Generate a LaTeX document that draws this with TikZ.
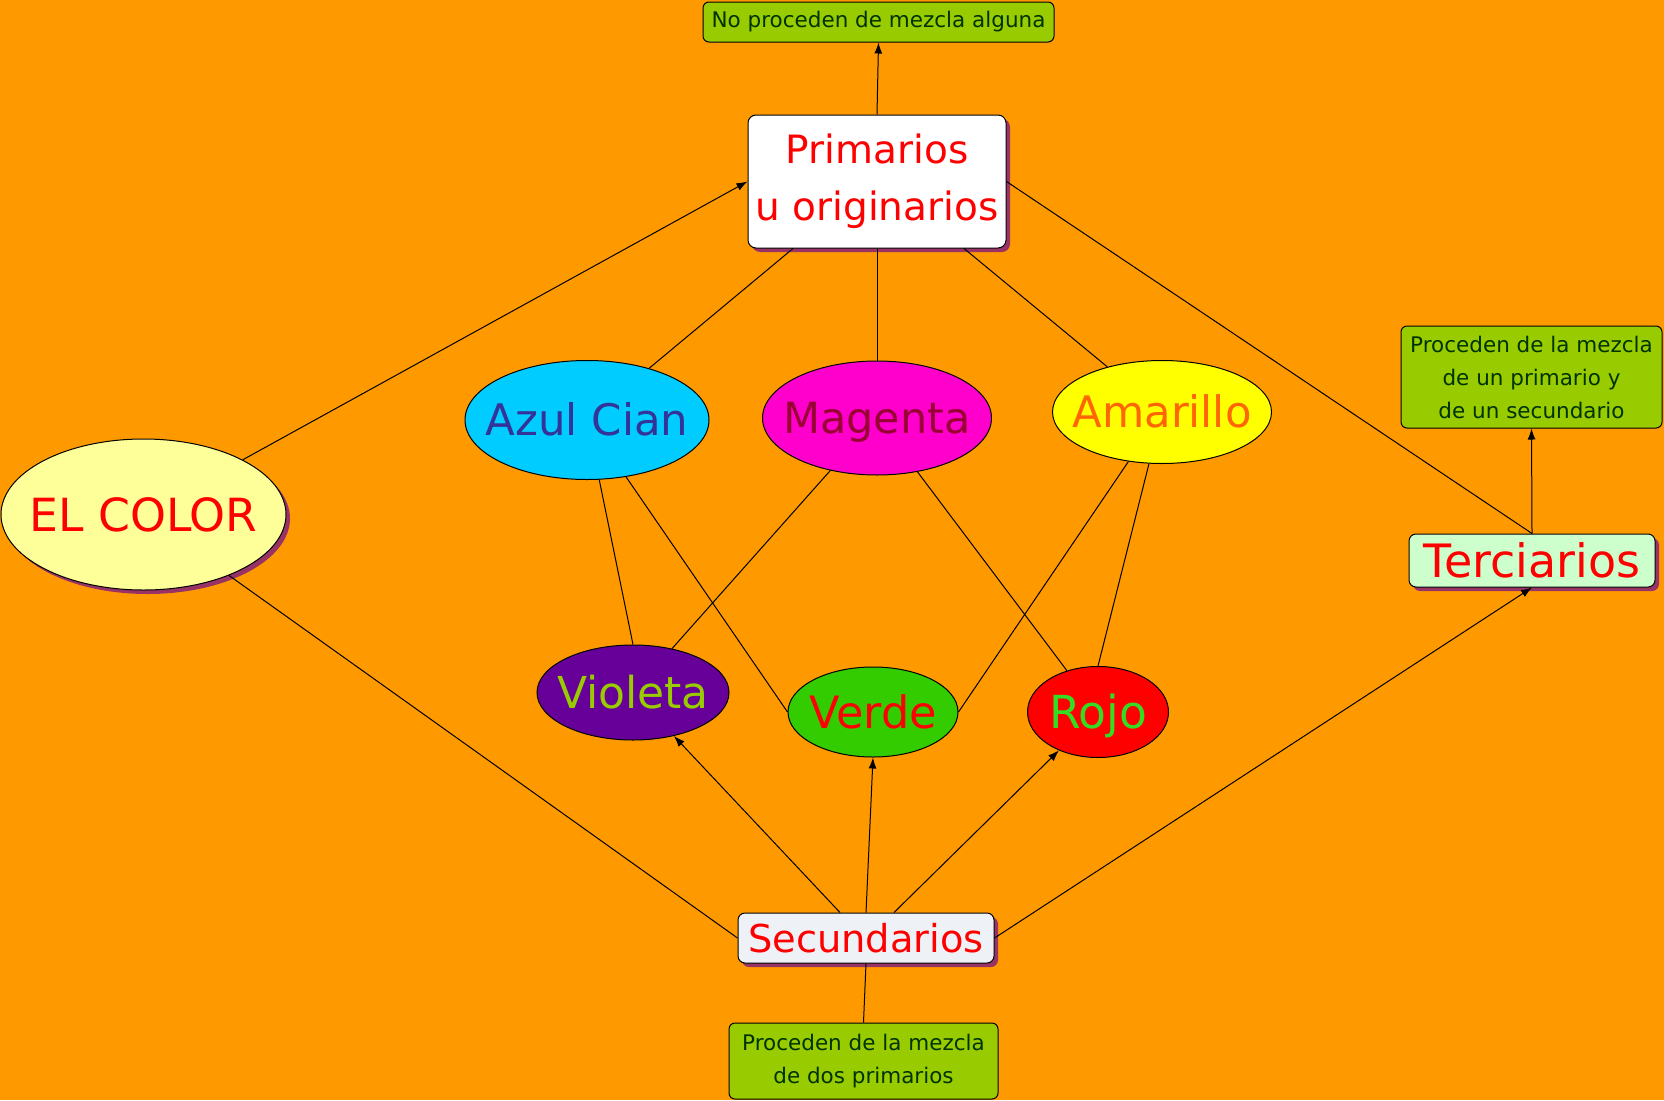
\documentclass[tikz,border=0pt]{standalone}
\usepackage{fontspec}
\setmainfont{DejaVu Sans}
\usetikzlibrary{arrows.meta,shapes.geometric,shadows}
\definecolor{bg}{HTML}{FF9900}
\definecolor{notegreen}{HTML}{99CC00}
\definecolor{notetext}{HTML}{003300}
\definecolor{shadowcol}{HTML}{993366}
\definecolor{elfill}{HTML}{FFFF99}
\definecolor{azulfill}{HTML}{00CCFF}
\definecolor{azultext}{HTML}{333399}
\definecolor{magfill}{HTML}{FF00CC}
\definecolor{magtext}{HTML}{990033}
\definecolor{amafill}{HTML}{FFFF00}
\definecolor{amatext}{HTML}{FF6600}
\definecolor{violfill}{HTML}{660099}
\definecolor{violtext}{HTML}{99CC00}
\definecolor{verdefill}{HTML}{33CC00}
\definecolor{rojotext}{HTML}{33DD22}
\definecolor{tercfill}{HTML}{CCFFCC}
\definecolor{secfill}{HTML}{EEF2F6}
\begin{document}
\begin{tikzpicture}[x=1pt,y=-1pt,
  conn/.style={draw=black, line width=1pt},
  arr/.style={conn, -{Latex[length=11pt,width=8pt]}},
  oval/.style={ellipse, draw=black, line width=1pt, inner sep=0pt, text depth=0pt},
  rbox/.style={rectangle, rounded corners=7pt, draw=black, line width=1pt, inner sep=0pt, align=center},
  note/.style={rbox, fill=notegreen, text=notetext, rounded corners=6pt, font=\fontsize{21.5}{33}\selectfont},
  shad/.style={drop shadow={shadow xshift=4pt, shadow yshift=-4pt, fill=shadowcol, opacity=1}},
  fs/.style={font=\fontsize{#1}{#1}\selectfont}
]
\fill[bg] (0,0) rectangle (1664,1100);
\useasboundingbox (0,0) rectangle (1664,1100);

% notes
\node[note, minimum width=351pt, minimum height=40pt] (nop) at (878.5,22) {No proceden de mezcla alguna};
\node[note, minimum width=261pt, minimum height=102pt] (ter3) at (1531.5,377) {Proceden de la mezcla\\de un primario y\\de un secundario};
\node[note, minimum width=269pt, minimum height=76pt] (dos) at (863.5,1061) {Proceden de la mezcla\\de dos primarios};

% main boxes
\node[rbox, shad, fill=white, text=red, rounded corners=8pt, minimum width=258pt, minimum height=133pt, font=\fontsize{39}{57}\selectfont] (prim) at (877,181.5) {Primarios\\u originarios};
\node[rbox, shad, fill=tercfill, text=red, minimum width=246pt, minimum height=53pt, fs=46, text height=33.5pt, text depth=0pt] (terc) at (1532,560.5) {Terciarios};
\node[rbox, shad, fill=secfill, text=red, minimum width=256pt, minimum height=50pt, fs=38.4, text height=28pt, text depth=0pt] (sec) at (866,938) {Secundarios};

% ellipses
\node[oval, shad, fill=elfill, text=red, minimum width=285pt, minimum height=151pt, fs=45.7, text height=33.3pt] (el) at (143.5,514.5) {\makebox[0pt]{EL COLOR}};
\node[oval, fill=azulfill, text=azultext, minimum width=244pt, minimum height=119pt, fs=43.5, text height=31.7pt] (azul) at (587,420) {\makebox[0pt]{Azul Cian}};
\node[oval, fill=magfill, text=magtext, minimum width=229pt, minimum height=114pt, fs=43, text height=31.4pt] (mag) at (877,418) {\makebox[0pt]{Magenta}};
\node[oval, fill=amafill, text=amatext, minimum width=219pt, minimum height=103pt, fs=43.4, text height=31.6pt] (ama) at (1162,412) {\makebox[0pt]{Amarillo}};
\node[oval, fill=violfill, text=violtext, minimum width=192pt, minimum height=95pt, fs=44, text height=32.1pt] (viol) at (633,692.5) {\makebox[0pt]{Violeta}};
\node[oval, fill=verdefill, text=red, minimum width=170pt, minimum height=90pt, fs=44.6, text height=32.5pt] (verde) at (873,712) {\makebox[0pt]{Verde}};
\node[oval, fill=red, text=rojotext, minimum width=141pt, minimum height=91pt, fs=45.5, text height=33.2pt] (rojo) at (1098,712) {\makebox[0pt]{Rojo}};

% connectors
\draw[arr] (el) -- (prim.west);
\draw[arr] (prim.north) -- (nop.south);
\draw[conn] (azul) -- ([xshift=-84pt]prim.south);
\draw[conn] (mag) -- (prim.south);
\draw[conn] (ama) -- ([xshift=87pt]prim.south);
\draw[conn] (prim.east) -- (terc.north);
\draw[conn] (viol.north) -- (azul);
\draw[conn] (verde.west) -- (azul);
\draw[conn] (mag) -- (viol);
\draw[conn] (mag) -- (rojo);
\draw[conn] (verde.east) -- (ama);
\draw[conn] (rojo.north) -- (ama);
\draw[conn] (el) -- (sec.west);
\draw[arr] ([xshift=-26pt]sec.north) -- (viol);
\draw[arr] (sec.north) -- (verde.south);
\draw[arr] ([xshift=28pt]sec.north) -- (rojo);
\draw[arr] (sec.east) -- (terc.south);
\draw[conn] (sec.south) -- (dos.north);
\draw[arr] (terc.north) -- (ter3.south);
\end{tikzpicture}
\end{document}
